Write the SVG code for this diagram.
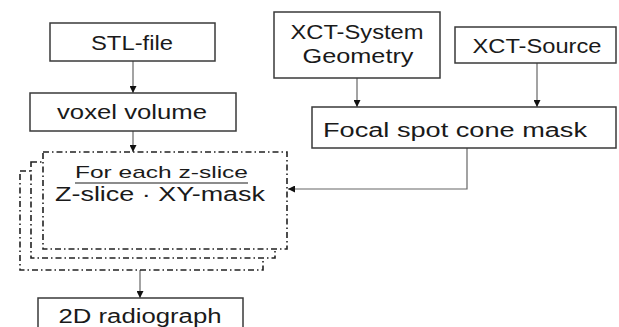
<svg xmlns="http://www.w3.org/2000/svg" width="619" height="327" viewBox="0 0 619 327">
<style>
.box{fill:#fff;stroke:#3a3a3a;stroke-width:1.5}
.dash{fill:#fff;stroke:#222;stroke-width:1.6;stroke-dasharray:6 3 1.5 3}
.t{font-family:"Liberation Sans","Open Sans",sans-serif;font-size:20px;fill:#1a1a1a;text-anchor:middle}
.s{font-size:17px}
.c{fill:none;stroke:#666;stroke-width:1.2}
</style>
<defs>
<marker id="ah" viewBox="0 0 10 10" refX="10" refY="5" markerWidth="7" markerHeight="7" markerUnits="userSpaceOnUse" orient="auto">
<path d="M0,0 L10,5 L0,10 z" fill="#111"/>
</marker>
</defs>
<g id="connectors">
<line class="c" x1="133" y1="61" x2="133" y2="93" marker-end="url(#ah)"/>
<line class="c" x1="133" y1="131" x2="133" y2="152" marker-end="url(#ah)"/>
<line class="c" x1="357" y1="78" x2="357" y2="107" marker-end="url(#ah)"/>
<line class="c" x1="537" y1="63" x2="537" y2="107" marker-end="url(#ah)"/>
<polyline class="c" points="467,148 467,189 288,189" marker-end="url(#ah)"/>
<line class="c" x1="140" y1="270" x2="140" y2="298" marker-end="url(#ah)"/>
</g>
<g id="stl"><rect class="box" x="50" y="23" width="165" height="38"/><text class="t" x="132" y="50" textLength="82" lengthAdjust="spacingAndGlyphs">STL-file</text></g>
<g id="voxel"><rect class="box" x="30" y="93" width="206" height="38"/><text class="t" x="132" y="119" textLength="150" lengthAdjust="spacingAndGlyphs">voxel volume</text></g>
<g id="xctsys"><rect class="box" x="274" y="12" width="166" height="66"/><text class="t" x="357" y="39" textLength="133" lengthAdjust="spacingAndGlyphs">XCT-System</text><text class="t" x="358" y="63" textLength="111" lengthAdjust="spacingAndGlyphs">Geometry</text></g>
<g id="xctsrc"><rect class="box" x="455" y="27" width="161" height="36"/><text class="t" x="537" y="53" textLength="129" lengthAdjust="spacingAndGlyphs">XCT-Source</text></g>
<g id="focal"><rect class="box" x="312" y="107" width="304" height="41"/><text class="t" x="455" y="137" textLength="264" lengthAdjust="spacingAndGlyphs">Focal spot cone mask</text></g>
<g id="slices">
<rect class="dash" x="20" y="171" width="243" height="99"/>
<rect class="dash" x="31" y="162" width="244" height="96"/>
<rect class="dash" x="43" y="152" width="244" height="97"/>
<text class="t s" x="161.5" y="178" textLength="173" lengthAdjust="spacingAndGlyphs">For each z-slice</text>
<line x1="75" y1="183" x2="248" y2="183" stroke="#1a1a1a" stroke-width="1.2"/>
<text class="t" x="160" y="201" textLength="210" lengthAdjust="spacingAndGlyphs">Z-slice · XY-mask</text>
</g>
<g id="radiograph"><rect class="box" x="38" y="298" width="205" height="40"/><text class="t" x="140" y="323" textLength="163" lengthAdjust="spacingAndGlyphs">2D radiograph</text></g>
</svg>
